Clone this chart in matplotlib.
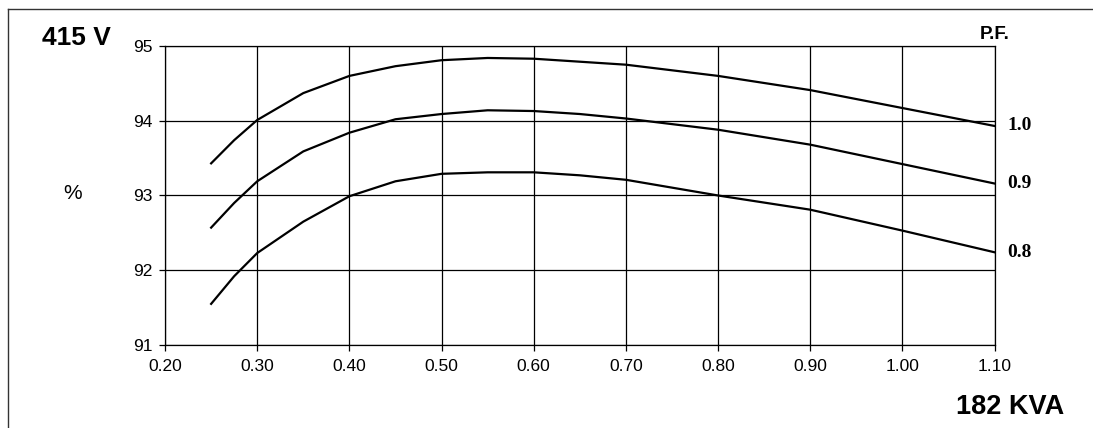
import matplotlib.pyplot as plt
from matplotlib.lines import Line2D

# load (per unit of 182 KVA) and efficiency in %
load = [0.25, 0.275, 0.30, 0.35, 0.40, 0.45, 0.50, 0.55, 0.60, 0.65, 0.70, 0.80, 0.90, 1.00, 1.10]
eff_pf10 = [93.43, 93.74, 94.01, 94.37, 94.60, 94.73, 94.81, 94.84, 94.83, 94.79, 94.75, 94.60, 94.41, 94.17, 93.93]
eff_pf09 = [92.57, 92.90, 93.19, 93.59, 93.84, 94.02, 94.09, 94.14, 94.13, 94.09, 94.03, 93.88, 93.68, 93.42, 93.16]
eff_pf08 = [91.55, 91.92, 92.23, 92.65, 92.99, 93.19, 93.29, 93.31, 93.31, 93.27, 93.21, 93.00, 92.81, 92.53, 92.24]
pf_labels = ['1.0', '0.9', '0.8']

xticks = [0.20, 0.30, 0.40, 0.50, 0.60, 0.70, 0.80, 0.90, 1.00, 1.10]
yticks = [91, 92, 93, 94, 95]

plt.rcParams['font.family'] = ['Liberation Sans', 'DejaVu Sans']

fig = plt.figure(figsize=(10.93, 4.28), dpi=100)
ax = fig.add_axes([0.151, 0.194, 0.759, 0.6985])

# outer frame (cropped box)
fig.add_artist(Line2D([0.0073, 0.0073], [0, 0.979], transform=fig.transFigure, color='#333333', lw=1))
fig.add_artist(Line2D([0.0073, 1.0], [0.979, 0.979], transform=fig.transFigure, color='#333333', lw=1))

for ys, lab in zip([eff_pf10, eff_pf09, eff_pf08], pf_labels):
    ax.plot(load, ys, color='black', lw=1.6)
    ax.annotate(lab, xy=(load[-1], ys[-1]), xytext=(9, 0), textcoords='offset points',
                va='center', ha='left', fontsize=14, fontweight='bold', family='Liberation Serif',
                annotation_clip=False)

ax.set_xlim(0.20, 1.10)
ax.set_ylim(91, 95)
ax.set_xticks(xticks)
ax.set_xticklabels(['%.2f' % v for v in xticks])
ax.set_yticks(yticks)
ax.grid(True, color='black', lw=0.9)
ax.tick_params(direction='out', length=4, width=0.9, labelsize=12.5, color='black')
ax.tick_params(axis='x', pad=6)
ax.tick_params(axis='y', pad=5)
for s in ax.spines.values():
    s.set_color('black')
    s.set_linewidth(0.9)

fig.text(0.038, 0.895, '415 V', fontsize=19, fontweight='bold', ha='left', va='baseline')
fig.text(0.066, 0.549, '%', fontsize=15, ha='center', va='center')
fig.text(0.896, 0.91, 'P.F.', fontsize=13.5, fontweight='bold', ha='left', va='baseline')
fig.text(0.875, 0.033, '182 KVA', fontsize=19.5, fontweight='bold', ha='left', va='baseline')

fig.savefig('out.png', dpi=100)
